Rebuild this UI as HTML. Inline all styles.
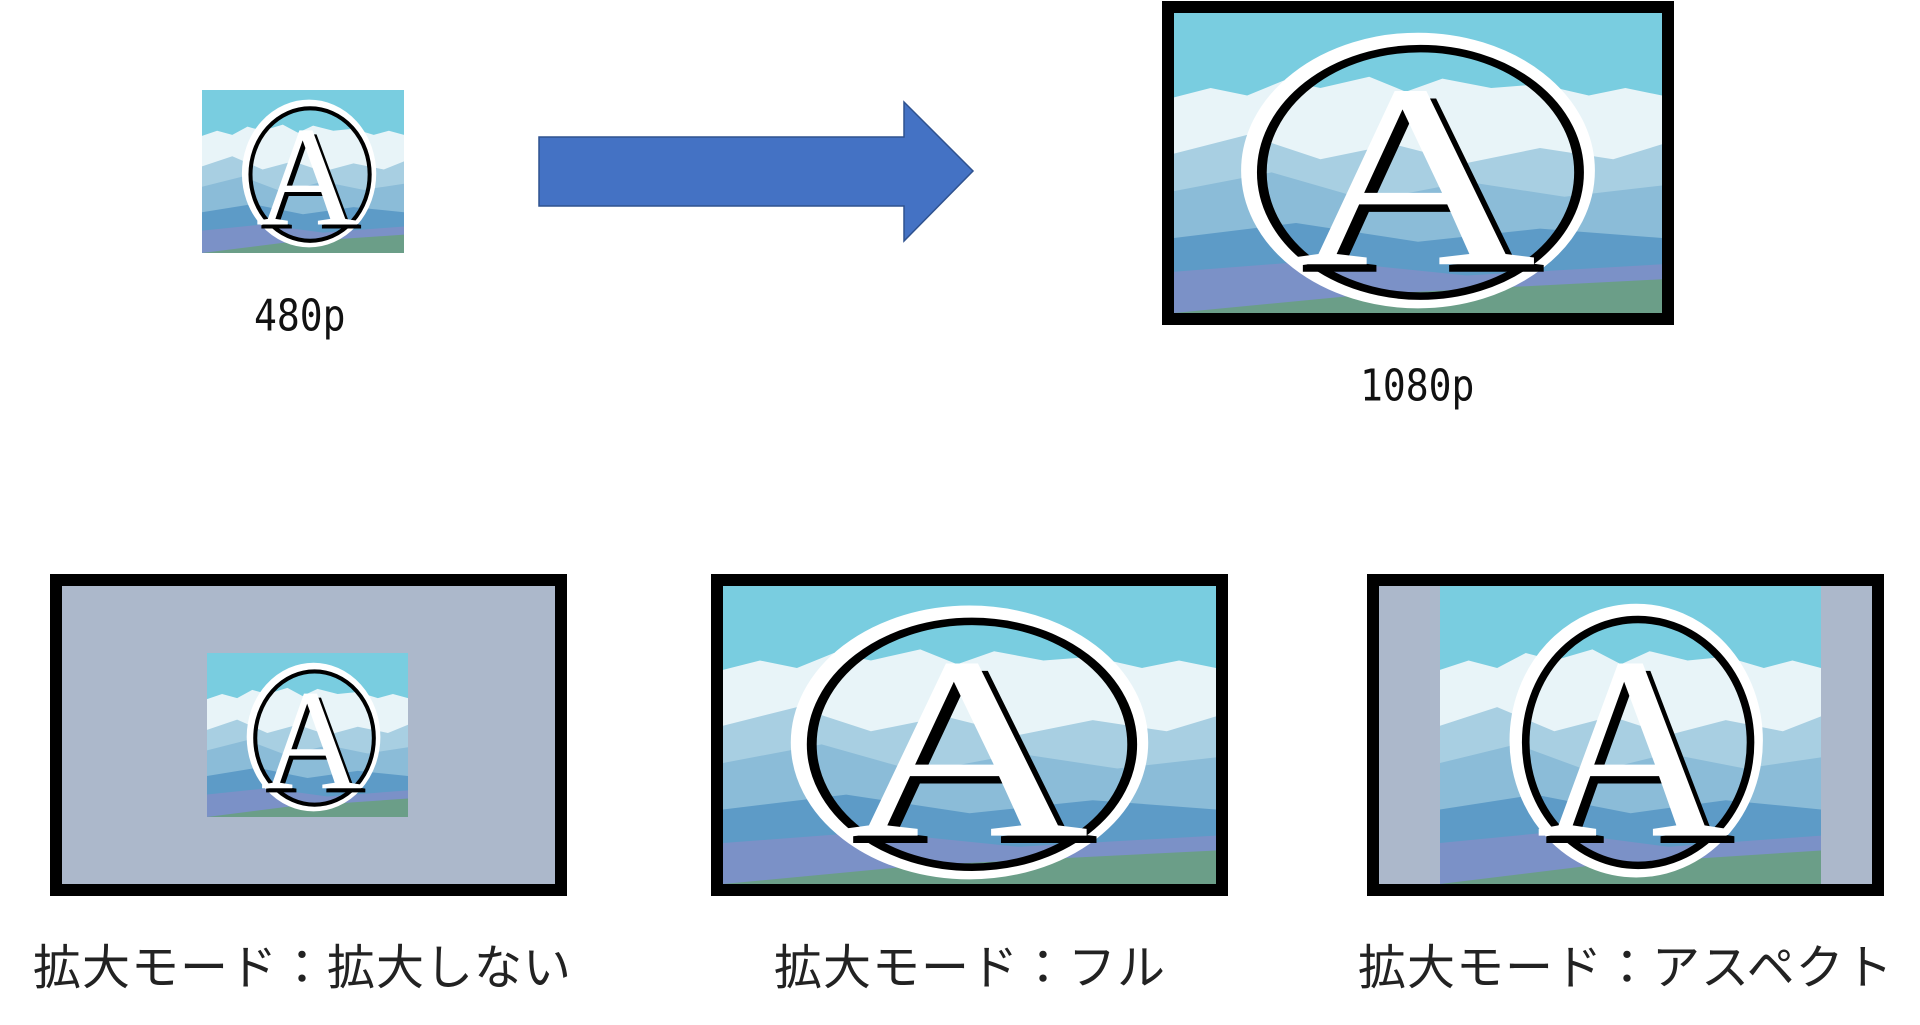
<!DOCTYPE html>
<html><head><meta charset="utf-8"><style>
html,body{margin:0;padding:0;background:#fff;}
body{width:1920px;height:1025px;position:relative;overflow:hidden;}
.a{position:absolute;}
svg.img{position:absolute;display:block;}
.frame{position:absolute;border:12px solid #000;box-sizing:border-box;background:#acb8cb;}
.lbl{position:absolute;font-family:"Liberation Sans","Noto Sans CJK JP",sans-serif;font-size:48px;color:#222;white-space:nowrap;letter-spacing:1px;}
.mono{position:absolute;font-family:"DejaVu Sans Mono","Liberation Mono",monospace;font-size:38px;color:#111;transform:scaleY(1.15);transform-origin:top left;}
</style></head><body>

<!-- small 480p image -->
<svg class="img" style="left:202px;top:90px" width="202" height="163" viewBox="0 0 200 160" preserveAspectRatio="none">
<rect width="200" height="160" fill="#79cde0"/>
<polygon points="0,45 15,40 30,44 45,36 60,40 80,34 95,42 110,35 130,40 150,38 170,44 185,40 200,44 200,130 0,130" fill="#e8f4f8"/>
<polygon points="0,75 30,65 60,78 90,70 120,80 150,72 180,78 200,70 200,135 0,135" fill="#a8cfe2"/>
<polygon points="0,95 40,85 80,100 120,90 160,98 200,92 200,140 0,140" fill="#8bbcd8"/>
<polygon points="0,120 50,112 100,122 150,115 200,120 200,160 0,160" fill="#5d9bc7"/>
<polygon points="0,138 60,132 120,140 200,134 200,160 0,160" fill="#7b91c7"/>
<polygon points="0,160 80,150 200,142 200,160" fill="#6b9e88"/>
<ellipse cx="106" cy="82" rx="63" ry="69" fill="none" stroke="#fff" stroke-width="7"/>
<ellipse cx="107" cy="83" rx="59" ry="65" fill="none" stroke="#000" stroke-width="4"/>
<text x="108" y="136" font-family="Liberation Serif,serif" font-size="140" text-anchor="middle" fill="#000">A</text>
<text x="104" y="132" font-family="Liberation Serif,serif" font-size="140" text-anchor="middle" fill="#fff">A</text>
</svg>
<div class="mono" style="left:254px;top:290px">480p</div>

<!-- arrow -->
<svg class="a" style="left:537px;top:100px" width="440" height="145" viewBox="537 100 440 145">
<polygon points="539,137 904,137 904,102 973,171 904,241 904,206 539,206" fill="#4472c4" stroke="#2f528f" stroke-width="1.5"/>
</svg>

<!-- big 1080p -->
<div class="frame" style="left:1162px;top:1px;width:512px;height:324px"></div>
<svg class="img" style="left:1174px;top:13px" width="488" height="300" viewBox="0 0 200 160" preserveAspectRatio="none">
<rect width="200" height="160" fill="#79cde0"/>
<polygon points="0,45 15,40 30,44 45,36 60,40 80,34 95,42 110,35 130,40 150,38 170,44 185,40 200,44 200,130 0,130" fill="#e8f4f8"/>
<polygon points="0,75 30,65 60,78 90,70 120,80 150,72 180,78 200,70 200,135 0,135" fill="#a8cfe2"/>
<polygon points="0,95 40,85 80,100 120,90 160,98 200,92 200,140 0,140" fill="#8bbcd8"/>
<polygon points="0,120 50,112 100,122 150,115 200,120 200,160 0,160" fill="#5d9bc7"/>
<polygon points="0,138 60,132 120,140 200,134 200,160 0,160" fill="#7b91c7"/>
<polygon points="0,160 80,150 200,142 200,160" fill="#6b9e88"/>
<ellipse cx="100" cy="84" rx="69" ry="70" fill="none" stroke="#fff" stroke-width="7"/>
<ellipse cx="101" cy="85" rx="65" ry="66" fill="none" stroke="#000" stroke-width="4"/>
<text x="102" y="138" font-family="Liberation Serif,serif" font-size="140" text-anchor="middle" fill="#000">A</text>
<text x="98" y="134" font-family="Liberation Serif,serif" font-size="140" text-anchor="middle" fill="#fff">A</text>
</svg>
<div class="mono" style="left:1360px;top:360px">1080p</div>

<!-- bottom 1 -->
<div class="frame" style="left:50px;top:574px;width:517px;height:322px"></div>
<svg class="img" style="left:207px;top:653px" width="201" height="164" viewBox="0 0 200 160" preserveAspectRatio="none">
<rect width="200" height="160" fill="#79cde0"/>
<polygon points="0,45 15,40 30,44 45,36 60,40 80,34 95,42 110,35 130,40 150,38 170,44 185,40 200,44 200,130 0,130" fill="#e8f4f8"/>
<polygon points="0,75 30,65 60,78 90,70 120,80 150,72 180,78 200,70 200,135 0,135" fill="#a8cfe2"/>
<polygon points="0,95 40,85 80,100 120,90 160,98 200,92 200,140 0,140" fill="#8bbcd8"/>
<polygon points="0,120 50,112 100,122 150,115 200,120 200,160 0,160" fill="#5d9bc7"/>
<polygon points="0,138 60,132 120,140 200,134 200,160 0,160" fill="#7b91c7"/>
<polygon points="0,160 80,150 200,142 200,160" fill="#6b9e88"/>
<ellipse cx="106" cy="82" rx="63" ry="69" fill="none" stroke="#fff" stroke-width="7"/>
<ellipse cx="107" cy="83" rx="59" ry="65" fill="none" stroke="#000" stroke-width="4"/>
<text x="108" y="136" font-family="Liberation Serif,serif" font-size="140" text-anchor="middle" fill="#000">A</text>
<text x="104" y="132" font-family="Liberation Serif,serif" font-size="140" text-anchor="middle" fill="#fff">A</text>
</svg>

<!-- bottom 2 -->
<div class="frame" style="left:711px;top:574px;width:517px;height:322px"></div>
<svg class="img" style="left:723px;top:586px" width="493" height="298" viewBox="0 0 200 160" preserveAspectRatio="none">
<rect width="200" height="160" fill="#79cde0"/>
<polygon points="0,45 15,40 30,44 45,36 60,40 80,34 95,42 110,35 130,40 150,38 170,44 185,40 200,44 200,130 0,130" fill="#e8f4f8"/>
<polygon points="0,75 30,65 60,78 90,70 120,80 150,72 180,78 200,70 200,135 0,135" fill="#a8cfe2"/>
<polygon points="0,95 40,85 80,100 120,90 160,98 200,92 200,140 0,140" fill="#8bbcd8"/>
<polygon points="0,120 50,112 100,122 150,115 200,120 200,160 0,160" fill="#5d9bc7"/>
<polygon points="0,138 60,132 120,140 200,134 200,160 0,160" fill="#7b91c7"/>
<polygon points="0,160 80,150 200,142 200,160" fill="#6b9e88"/>
<ellipse cx="100" cy="84" rx="69" ry="70" fill="none" stroke="#fff" stroke-width="7"/>
<ellipse cx="101" cy="85" rx="65" ry="66" fill="none" stroke="#000" stroke-width="4"/>
<text x="102" y="138" font-family="Liberation Serif,serif" font-size="140" text-anchor="middle" fill="#000">A</text>
<text x="98" y="134" font-family="Liberation Serif,serif" font-size="140" text-anchor="middle" fill="#fff">A</text>
</svg>

<!-- bottom 3 -->
<div class="frame" style="left:1367px;top:574px;width:517px;height:322px"></div>
<svg class="img" style="left:1440px;top:586px" width="381" height="298" viewBox="0 0 200 160" preserveAspectRatio="none">
<rect width="200" height="160" fill="#79cde0"/>
<polygon points="0,45 15,40 30,44 45,36 60,40 80,34 95,42 110,35 130,40 150,38 170,44 185,40 200,44 200,130 0,130" fill="#e8f4f8"/>
<polygon points="0,75 30,65 60,78 90,70 120,80 150,72 180,78 200,70 200,135 0,135" fill="#a8cfe2"/>
<polygon points="0,95 40,85 80,100 120,90 160,98 200,92 200,140 0,140" fill="#8bbcd8"/>
<polygon points="0,120 50,112 100,122 150,115 200,120 200,160 0,160" fill="#5d9bc7"/>
<polygon points="0,138 60,132 120,140 200,134 200,160 0,160" fill="#7b91c7"/>
<polygon points="0,160 80,150 200,142 200,160" fill="#6b9e88"/>
<ellipse cx="103" cy="83" rx="63" ry="70" fill="none" stroke="#fff" stroke-width="7"/>
<ellipse cx="104" cy="84" rx="59" ry="66" fill="none" stroke="#000" stroke-width="4"/>
<text x="105" y="138" font-family="Liberation Serif,serif" font-size="140" text-anchor="middle" fill="#000">A</text>
<text x="101" y="134" font-family="Liberation Serif,serif" font-size="140" text-anchor="middle" fill="#fff">A</text>
</svg>

<div class="lbl" style="left:33px;top:928px">拡大モード：拡大しない</div>
<div class="lbl" style="left:774px;top:928px">拡大モード：フル</div>
<div class="lbl" style="left:1358px;top:928px">拡大モード：アスペクト</div>
</body></html>
